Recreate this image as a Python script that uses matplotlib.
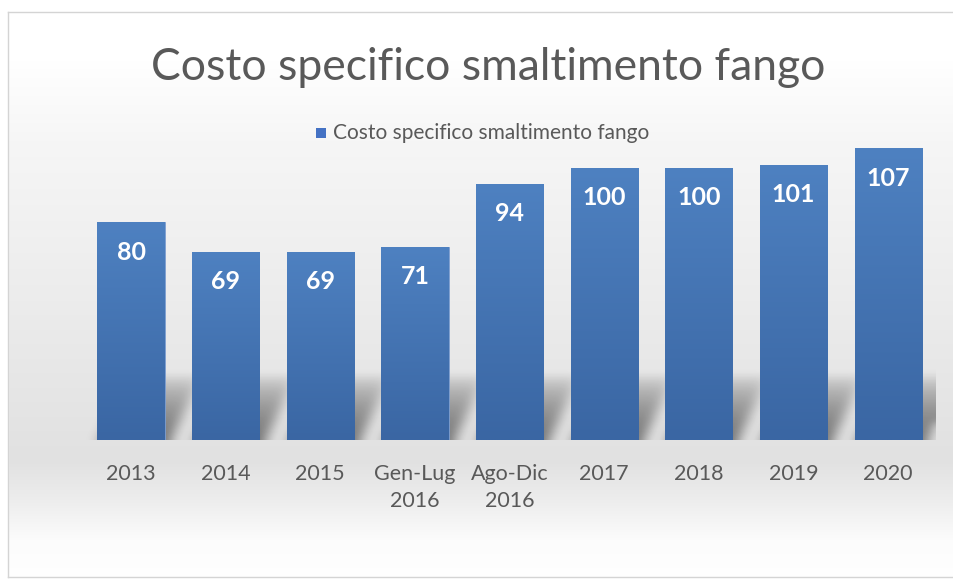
import numpy as np
import matplotlib
matplotlib.use("Agg")
import matplotlib.pyplot as plt
from matplotlib.patches import Rectangle

categories = ["2013", "2014", "2015", "Gen-Lug\n2016", "Ago-Dic\n2016", "2017", "2018", "2019", "2020"]
values = [80, 69, 69, 71, 94, 100, 100, 101, 107]
series_name = "Costo specifico smaltimento fango"
title = "Costo specifico smaltimento fango"

FONT = ["Lato", "DejaVu Sans"]
W, H = 954, 581
fig = plt.figure(figsize=(W / 100, H / 100), dpi=100)

# background with vertical gradient
bg = fig.add_axes([0, 0, 1, 1], zorder=0)
bg.set_axis_off()
ys = np.array([0, 60, 140, 300, 460, 500, 540, 581])
cs = np.array([255, 255, 246, 236, 225, 237, 252, 255])
yy = np.arange(H)
col = np.interp(yy, ys, cs) / 255.0
img = np.repeat(col[:, None], 4, axis=1)
img = np.dstack([img, img, img])
bg.imshow(img, extent=[-5, W + 5, H, 0], aspect="auto")
bg.add_patch(Rectangle((-5, -5), 13, H + 10, color="white", zorder=2))
bg.add_patch(Rectangle((-5, -5), W + 10, 17, color="white", zorder=2))
bg.add_patch(Rectangle((-5, 577), W + 10, 10, color="white", zorder=2))
bg.plot([8, W + 5], [12, 12], color="#d4d4d4", lw=1, zorder=3)
bg.plot([8, 8], [12, 577], color="#d4d4d4", lw=1, zorder=3)
bg.plot([8, W + 5], [577, 577], color="#d4d4d4", lw=1, zorder=3)
bg.set_xlim(0, W)
bg.set_ylim(H, 0)

# plot axes
left, right = 83.7, 935.5
bottom_px, top_px = 440, 113
ax = fig.add_axes([left / W, (H - bottom_px) / H, (right - left) / W, (bottom_px - top_px) / H], zorder=1)
ax.patch.set_alpha(0)
ymax = 120
n = len(values)
ax.set_xlim(-0.5, n - 0.5)
ax.set_ylim(0, ymax)
for s in ax.spines.values():
    s.set_visible(False)
ax.set_yticks([])
x = np.arange(n)
ax.set_xticks(x)
ax.set_xticklabels(categories, fontsize=15.5, color="#595959", family=FONT, linespacing=1.45)
ax.tick_params(axis="x", length=0, pad=17)

bw = 0.71

# perspective shadow raster (blurred), computed from bar positions
nx, ny = 900, 140
sh_top = 40.0
gx = np.linspace(-0.5, n - 0.5, nx)
gy = np.linspace(0, sh_top, ny)
GX, GY = np.meshgrid(gx, gy)
mask = np.zeros_like(GX)
hs = 24.0
slope = 0.32 / hs
for xi in x:
    lo = xi - bw / 2 + slope * GY + 0.03
    hi = xi + bw / 2 + slope * GY + 0.06
    inside = (GX >= lo) & (GX <= hi) & (GY <= hs)
    mask = np.maximum(mask, inside * np.clip(1 - GY / hs, 0, 1) ** 0.6)


def blur1d(a, sigma, axis):
    r = int(3 * sigma)
    k = np.exp(-0.5 * (np.arange(-r, r + 1) / sigma) ** 2)
    k /= k.sum()
    return np.apply_along_axis(lambda m: np.convolve(np.pad(m, r, mode="edge"), k, mode="valid"), axis, a)


mask = blur1d(mask, 7, 1)
mask = blur1d(mask, 5, 0)
shadow = np.zeros((ny, nx, 4))
shadow[..., 3] = np.clip(mask * 0.5, 0, 1)
ax.imshow(shadow, extent=[-0.5, n - 0.5, 0, sh_top], origin="lower", aspect="auto", zorder=1,
          interpolation="bilinear")

bars = ax.bar(x, values, width=bw, color="#4472c4", edgecolor="#7fa0d0", linewidth=0.6, zorder=2)
grad = np.linspace(0, 1, 256)[:, None]
top_c = np.array([0x4e, 0x81, 0xc1]) / 255
bot_c = np.array([0x3a, 0x66, 0xa3]) / 255
gimg = top_c[None, None, :] * (1 - grad[..., None]) + bot_c[None, None, :] * grad[..., None]
gimg = np.repeat(gimg, 2, axis=1)
for b in bars:
    bx, by = b.get_x(), b.get_y()
    bwid, bh = b.get_width(), b.get_height()
    im = ax.imshow(gimg, extent=[bx, bx + bwid, by, by + bh], aspect="auto", zorder=2.5, origin="upper")
    im.set_clip_path(b)
ax.set_xlim(-0.5, n - 0.5)
ax.set_ylim(0, ymax)

for xi, v in zip(x, values):
    ax.annotate(f"{v}", (xi, v), xytext=(0, -30), textcoords="offset pixels",
                ha="center", va="center", color="white", fontsize=18, fontweight="bold",
                family=FONT, zorder=4)

fig.text(488 / W, 1 - 67 / H, title, ha="center", va="center", fontsize=32, color="#595959", family=FONT)
# legend
legend_y = 1 - 133 / H
fig.patches.append(Rectangle((316 / W, legend_y - 5 / H), 10 / W, 10 / H, transform=fig.transFigure,
                             facecolor="#4472c4", edgecolor="none", figure=fig))
fig.text(333 / W, legend_y, series_name, ha="left", va="center", fontsize=15, color="#595959", family=FONT)

fig.savefig("out.png", dpi=100)
